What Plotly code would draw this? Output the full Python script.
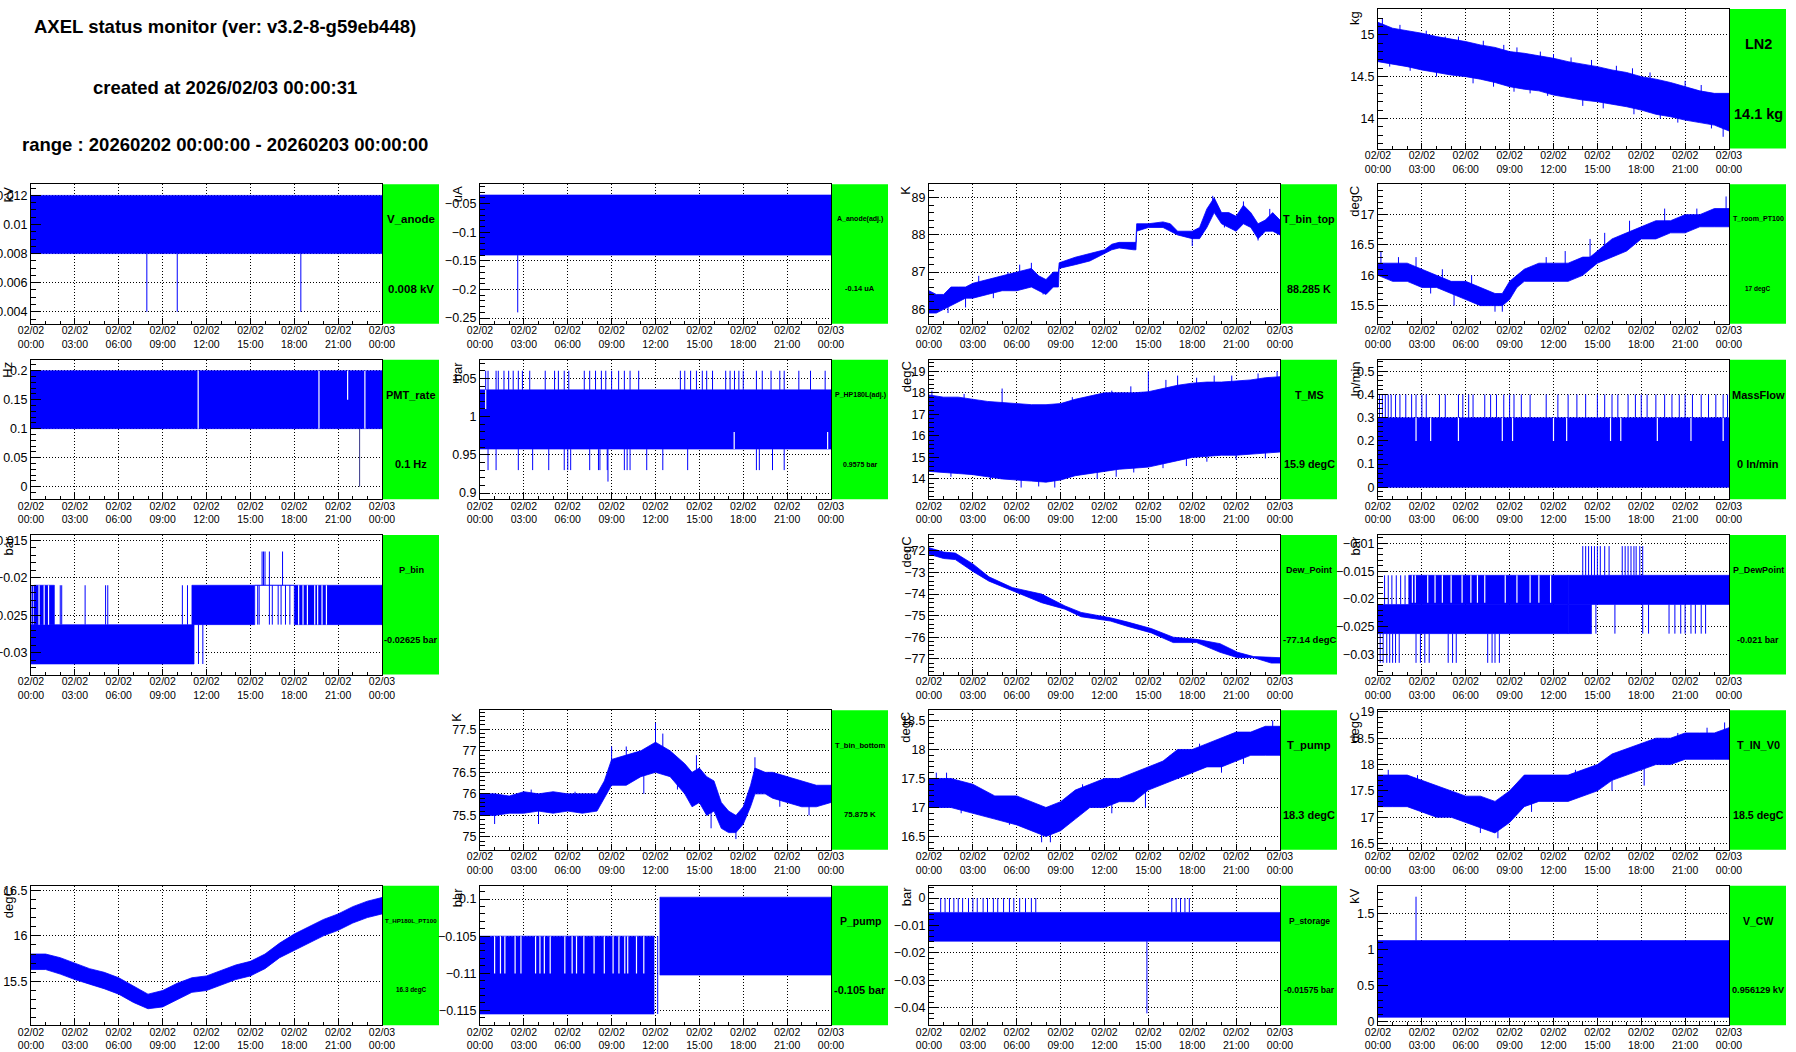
import numpy as np
import plotly.graph_objects as go

W, H = 1796, 1052
CELL_W = W / 4.0
CELL_H = H / 6.0
BLUE = '#0000ff'
GREEN = '#00ff00'
FONT = 'Liberation Sans, Arial, Helvetica, sans-serif'

# ---------------- shared axis data ----------------
X_TICKS = [0, 3, 6, 9, 12, 15, 18, 21, 24]
X_TICK_TEXT = ['02/02<br>00:00', '02/02<br>03:00', '02/02<br>06:00', '02/02<br>09:00',
               '02/02<br>12:00', '02/02<br>15:00', '02/02<br>18:00', '02/02<br>21:00',
               '02/03<br>00:00']
HEADER = ['AXEL status monitor (ver: v3.2-8-g59eb448)',
          'created at 2026/02/03 00:00:31',
          'range : 20260202 00:00:00 - 20260203 00:00:00']

# ---------------- LN2 ----------------
LN2_T = [0, 1, 2, 3, 4, 5, 6, 7, 8, 9, 10, 11, 12, 13, 14, 15, 16, 17, 18, 19, 20, 21, 22, 23, 24]
LN2_HI = [15.15, 15.08, 15.05, 15.02, 14.98, 14.95, 14.92, 14.88, 14.85, 14.8, 14.78, 14.75, 14.72,
          14.68, 14.65, 14.62, 14.58, 14.55, 14.5, 14.47, 14.43, 14.38, 14.33, 14.3, 14.3]
LN2_LO = [14.68, 14.65, 14.62, 14.58, 14.55, 14.52, 14.5, 14.47, 14.43, 14.38, 14.35, 14.33, 14.28,
          14.25, 14.22, 14.2, 14.17, 14.14, 14.1, 14.05, 14.02, 13.98, 13.95, 13.92, 13.85]
LN2_SPK_T = [0.3, 0.8, 1.5, 2.2, 3.3, 4.0, 4.6, 5.5, 6.5, 7.2, 7.9, 8.6, 9.3, 9.5, 10.4, 11.1, 11.6,
             12.0, 13.2, 14.0, 14.6, 15.4, 16.3, 17.4, 17.5, 18.6, 19.3, 20.5, 21.0, 22.1, 22.8, 23.6]
LN2_SPK_Y = [15.2, 14.62, 15.12, 14.57, 15.05, 14.5, 14.98, 14.98, 14.42, 14.93, 14.38, 14.88,
             14.32, 14.85, 14.3, 14.8, 14.27, 14.77, 14.73, 14.15, 14.7, 14.12, 14.63, 14.6, 14.05,
             14.55, 14.0, 13.95, 14.45, 14.4, 13.88, 13.78]

# ---------------- V_anode ----------------
VAN_BAND = [0.008, 0.012]
VAN_SPK_T = [7.92, 10.0, 18.45]
VAN_SPK_Y = [0.004, 0.004, 0.004]

# ---------------- A_anode(adj.) ----------------
AAN_BAND = [-0.14, -0.035]
AAN_SPK_T = [2.58]
AAN_SPK_Y = [-0.24]

# ---------------- T_bin_top ----------------
TBT_T = [0, 0.5, 1, 1.5, 2, 2.5, 3, 4, 5, 6, 7, 7.5, 8, 8.5, 8.85, 8.9, 10, 11, 12, 12.5, 13, 14,
         14.15, 14.2, 15, 16, 16.5, 17, 18, 18.5, 19, 19.5, 20, 20.5, 21, 21.5, 22, 22.5, 23, 23.5, 24]
TBT_HI = [86.5, 86.4, 86.4, 86.6, 86.6, 86.6, 86.7, 86.8, 86.9, 87.0, 87.1, 86.9, 86.8, 87.0, 87.0,
          87.25, 87.4, 87.5, 87.6, 87.75, 87.8, 87.8, 87.8, 88.3, 88.3, 88.35, 88.3, 88.1, 88.1, 88.2,
          88.7, 89.0, 88.6, 88.6, 88.5, 88.8, 88.6, 88.3, 88.4, 88.6, 88.4]
TBT_LO = [85.9, 85.9, 86.0, 86.1, 86.2, 86.3, 86.3, 86.4, 86.5, 86.5, 86.6, 86.5, 86.4, 86.6, 86.6,
          87.1, 87.2, 87.3, 87.5, 87.6, 87.65, 87.6, 87.6, 88.1, 88.2, 88.2, 88.1, 88.0, 87.9, 87.9,
          88.2, 88.6, 88.3, 88.2, 88.1, 88.3, 88.2, 87.9, 88.1, 88.1, 88.0]
TBT_SPK_T = [1.3, 2.5, 3.4, 4.4, 5.4, 6.2, 7.0, 7.8, 18.0, 19.4, 20.2, 21.5, 22.5, 23.3]
TBT_SPK_Y = [85.9, 86.05, 86.9, 86.3, 87.0, 87.2, 87.25, 86.4, 87.7, 89.05, 88.2, 88.9, 87.85, 88.7]

# ---------------- T_room_PT100 ----------------
TR_T = [0, 1, 2, 3, 4, 5, 6, 7, 8, 8.5, 9, 9.5, 10, 11, 12, 13, 14, 14.5, 15, 16, 17, 18, 19, 20, 21, 22, 23, 24]
TR_HI = [16.2, 16.2, 16.2, 16.1, 16.0, 15.9, 15.9, 15.8, 15.7, 15.7, 15.9, 16.0, 16.1, 16.2, 16.2,
         16.2, 16.3, 16.3, 16.4, 16.6, 16.7, 16.8, 16.9, 16.9, 17.0, 17.0, 17.1, 17.1]
TR_LO = [16.0, 15.9, 15.9, 15.8, 15.8, 15.7, 15.6, 15.5, 15.5, 15.5, 15.6, 15.8, 15.9, 15.9, 15.9,
         15.9, 16.0, 16.1, 16.2, 16.3, 16.4, 16.6, 16.6, 16.7, 16.7, 16.8, 16.8, 16.8]
TR_SPK_T = [0.2, 1.4, 2.6, 3.6, 4.4, 5.2, 6.4, 8.0, 8.5, 11.5, 12.8, 14.5, 15.5, 17.2, 19.6, 21.8, 23.8]
TR_SPK_Y = [16.4, 16.3, 16.3, 15.7, 16.1, 15.5, 16.0, 15.4, 15.4, 16.3, 16.4, 16.6, 16.7, 16.9, 17.1, 17.1, 17.3]

# ---------------- PMT_rate ----------------
PMT_BAND = [0.1, 0.2]
PMT_GAP_T = [11.43, 19.69, 22.83]
PMT_HALFGAP_T = [21.65]
PMT_HALFGAP_Y = [0.15, 0.2]
PMT_SPK_T = [22.47]
PMT_SPK_Y = [0.0]

# ---------------- P_HP180L(adj.) ----------------
PHP_BAND = [0.9575, 1.035]
PHP_UP_T = [0.39, 0.55, 1.1, 1.25, 1.64, 1.96, 2.27, 2.62, 2.9, 3.4, 4.46, 5.1, 5.36, 5.76, 6.07,
            7.13, 7.5, 7.9, 8.3, 8.6, 9.0, 9.48, 9.87, 10.26, 10.85, 13.7, 14.0, 14.4, 14.8, 15.2,
            15.5, 15.9, 16.8, 17.1, 17.4, 17.7, 18.0, 18.9, 19.3, 19.9, 20.5, 20.8, 21.8, 22.6, 23.6]
PHP_UP_Y = 1.06
PHP_DN_T = [0.55, 1.1, 2.62, 3.6, 4.7, 5.76, 6.0, 6.2, 7.5, 8.1, 8.2, 8.7, 9.87, 10.06, 10.26,
            11.4, 12.5, 14.2, 18.9, 19.1, 20.0, 20.8]
PHP_DN_Y = 0.93
PHP_DEEP_T = [8.75]
PHP_DEEP_Y = [0.915]
PHP_GAP_LO_T = [17.38, 23.77]
PHP_GAP_LO_Y = [0.9575, 0.98]
PHP_GAP_HI_T = [0.39]
PHP_GAP_HI_Y = [1.01, 1.035]

# ---------------- T_MS ----------------
TMS_T = [0, 1, 2, 3, 4, 5, 6, 7, 8, 9, 10, 11, 12, 13, 14, 15, 16, 17, 18, 19, 20, 21, 22, 23, 24]
TMS_HI = [17.9, 17.8, 17.8, 17.7, 17.6, 17.55, 17.5, 17.45, 17.45, 17.5, 17.7, 17.85, 18.0, 18.0,
          18.0, 18.05, 18.2, 18.35, 18.45, 18.5, 18.5, 18.55, 18.6, 18.7, 18.75]
TMS_LO = [14.35, 14.3, 14.25, 14.2, 14.1, 14.0, 13.95, 13.9, 13.85, 13.95, 14.15, 14.25, 14.35,
          14.45, 14.5, 14.55, 14.7, 14.85, 15.0, 15.05, 15.1, 15.1, 15.15, 15.2, 15.25]
TMS_SPK_T = [0.2, 2.4, 5.0, 9.8, 12.5, 13.8, 15.0, 16.2, 17.0, 18.3, 19.5, 20.7, 22.5, 23.8,
             1.5, 4.2, 6.3, 7.5, 8.6, 11.5, 12.8, 14.0, 16.0, 17.6, 19.0, 21.0, 23.0]
TMS_SPK_Y = [18.1, 17.95, 18.2, 17.8, 18.1, 18.3, 19.0, 18.6, 18.8, 18.7, 18.8, 18.8, 18.9, 19.0,
             14.1, 13.95, 13.6, 13.65, 13.6, 14.0, 14.1, 14.3, 14.5, 14.6, 14.8, 14.9, 14.95]

# ---------------- MassFlow ----------------
MF_BAND = [0.0, 0.3]
MF_UP_T = [0.1, 0.3, 0.5, 0.7, 0.9, 1.2, 1.5, 1.9, 2.3, 2.6, 3.0, 3.3, 4.2, 4.6, 5.5, 5.8, 6.2, 6.5,
           7.3, 7.7, 8.1, 8.6, 9.0, 9.3, 9.8, 10.4, 11.5, 12.3, 13.0, 13.6, 14.2, 15.0, 15.5, 16.0,
           16.4, 17.1, 17.6, 18.0, 18.4, 19.0, 19.6, 20.1, 20.6, 21.0, 21.5, 22.1, 22.6, 23.1, 23.6, 23.9]
MF_UP_Y = 0.4
MF_GAP_T = [2.6, 3.6, 5.5, 8.5, 9.2, 12.0, 12.9, 15.9, 16.6, 19.1, 21.4, 23.6]
MF_GAP_Y = [0.2, 0.3]

# ---------------- P_bin ----------------
PBIN_LV = [-0.0165, -0.021, -0.02625, -0.0315]
PBIN_LOW_SEG = [(0.0, 11.15)]
PBIN_LOW_LINES = [11.45, 11.75]
PBIN_UP_SEG = [(0.2, 1.6), (11.0, 15.3), (18.0, 24.0)]
PBIN_UP_LINES = [0.0, 0.1, 2.0, 2.1, 3.7, 5.1, 5.25, 10.35, 10.7, 15.5, 15.6, 16.3, 16.5, 16.9,
                 17.1, 17.4, 17.7]
PBIN_UP_GAPS = [0.55, 0.9, 1.2, 18.3, 18.6, 18.9, 19.4, 19.6, 19.9, 20.2]
PBIN_HI_LINES = [15.8, 15.9, 16.0, 16.3, 17.2]
PBIN_FLAT = [15.3, 18.0]

# ---------------- Dew_Point ----------------
DP_T = [0, 1, 1.8, 3, 4.1, 5.7, 7.7, 9.3, 10.4, 12.4, 13.6, 15.2, 16.7, 18.3, 19.9, 21.1, 22.2, 23.4, 24]
DP_HI = [-71.85, -72.05, -72.1, -72.6, -73.2, -73.7, -74.0, -74.55, -74.85, -75.1, -75.3, -75.6,
         -76.0, -76.1, -76.3, -76.7, -76.9, -76.95, -76.95]
DP_LO = [-72.15, -72.35, -72.4, -72.95, -73.4, -73.85, -74.4, -74.7, -75.05, -75.25, -75.5, -75.8,
         -76.25, -76.25, -76.7, -76.95, -76.95, -77.2, -77.2]

# ---------------- P_DewPoint ----------------
PDP_LV = [-0.0105, -0.01575, -0.021, -0.02625, -0.0315]
PDP_MAIN_A = [(0.0, 13.0)]        # between L3 and L2
PDP_MAIN_B = [(13.0, 24.0)]       # between L2 and L1
PDP_UPPER_SEG = [(2.1, 13.0)]     # between L2 and L1
PDP_UPPER_LINES = [0.45, 0.7, 0.95, 1.25, 1.55, 1.85]
PDP_UPPER_GAPS = [2.35, 2.55, 3.4, 3.9, 4.4, 5.0, 5.75, 6.35, 6.8, 7.3, 8.7, 9.5, 10.4, 11.0, 11.8]
PDP_LOWER_SEG = [(13.0, 14.6)]    # between L3 and L2
PDP_LOWER_LINES = [14.9, 16.2, 18.1, 18.5, 19.9, 20.3, 20.7, 21.0, 21.4, 21.7, 22.1, 22.4]
PDP_DEEP_LINES = [0.15, 0.35, 0.6, 0.8, 1.0, 1.2, 1.45, 2.6, 2.9, 3.2, 3.5, 4.8, 5.1, 5.35,
                  7.5, 7.8, 8.0, 8.3]
PDP_TOP_LINES = [14.0, 14.2, 14.4, 14.6, 14.8, 15.0, 15.2, 15.5, 15.8, 16.7, 16.9, 17.1, 17.3,
                 17.5, 17.65, 17.9, 18.1]

# ---------------- T_bin_bottom ----------------
TBB_T = [0, 1, 2, 3, 4, 5, 6, 7, 8, 8.5, 9, 10, 11, 12, 13, 14, 14.5, 15, 15.5, 16, 16.5, 17, 17.5,
         18, 18.5, 18.8, 19.5, 20, 21, 22, 23, 24]
TBB_HI = [76.0, 76.0, 75.95, 76.05, 76.0, 76.05, 76.0, 76.0, 76.0, 76.3, 76.8, 76.9, 77.0, 77.2,
          77.0, 76.7, 76.5, 76.6, 76.4, 76.3, 75.8, 75.6, 75.5, 75.7, 76.2, 76.6, 76.5, 76.5, 76.4,
          76.3, 76.2, 76.2]
TBB_LO = [75.5, 75.5, 75.55, 75.55, 75.6, 75.55, 75.6, 75.55, 75.6, 75.9, 76.2, 76.2, 76.4, 76.5,
          76.4, 76.0, 75.7, 75.8, 75.5, 75.6, 75.2, 75.1, 75.1, 75.3, 75.7, 76.0, 76.0, 75.9, 75.8,
          75.7, 75.7, 75.8]
TBB_SPK_T = [9.0, 10.0, 12.0, 12.5, 18.8, 1.0, 4.0, 15.8, 17.5, 22.5, 3.5, 11.2, 6.5, 13.5, 14.8, 20.5]
TBB_SPK_Y = [77.1, 77.1, 77.65, 77.4, 76.85, 75.3, 75.3, 75.2, 74.95, 75.5, 76.1, 76.0, 76.05, 76.1,
             76.9, 75.7]

# ---------------- T_pump ----------------
TP_T = [0, 1.5, 3, 4.5, 6, 7, 8, 9, 10, 11, 12, 13, 14, 15, 16, 17, 18, 19, 20, 21, 22, 23, 24]
TP_HI = [17.5, 17.5, 17.4, 17.2, 17.2, 17.1, 17.0, 17.1, 17.3, 17.4, 17.5, 17.5, 17.6, 17.7, 17.8,
         18.0, 18.0, 18.1, 18.2, 18.3, 18.3, 18.4, 18.4]
TP_LO = [17.0, 17.0, 16.9, 16.8, 16.7, 16.6, 16.5, 16.6, 16.8, 17.0, 17.0, 17.1, 17.1, 17.3, 17.4,
         17.5, 17.6, 17.7, 17.7, 17.8, 17.9, 17.9, 17.9]
TP_SPK_T = [0.5, 1.2, 2.2, 5.5, 7.7, 8.3, 10.5, 12.5, 14.8, 16.5, 18.5, 20.0, 21.5, 23.5]
TP_SPK_Y = [17.6, 17.6, 16.9, 16.7, 16.4, 16.4, 17.4, 16.9, 17.0, 17.9, 18.1, 17.6, 17.75, 18.5]

# ---------------- T_IN_V0 ----------------
TIV_T = [0, 1, 2, 3, 4, 5, 6, 7, 8, 8.5, 9, 10, 11, 12, 13, 14, 15, 16, 17, 18, 19, 20, 21, 22, 23, 24]
TIV_HI = [17.8, 17.8, 17.8, 17.7, 17.6, 17.5, 17.4, 17.4, 17.3, 17.4, 17.5, 17.8, 17.8, 17.8, 17.8,
          17.9, 18.0, 18.2, 18.3, 18.4, 18.5, 18.5, 18.6, 18.6, 18.6, 18.7]
TIV_LO = [17.2, 17.2, 17.2, 17.1, 17.0, 17.0, 16.9, 16.8, 16.7, 16.8, 16.9, 17.2, 17.3, 17.3, 17.3,
          17.4, 17.5, 17.7, 17.8, 17.9, 18.0, 18.0, 18.1, 18.1, 18.1, 18.1]
TIV_SPK_T = [0.7, 2.7, 4.5, 7.0, 8.2, 10.5, 13.5, 16.0, 18.2, 20.5, 22.5, 23.7]
TIV_SPK_Y = [17.9, 17.8, 17.05, 16.7, 16.6, 17.1, 17.9, 17.5, 17.6, 18.6, 18.7, 18.8]

# ---------------- T_HP180L_PT100 ----------------
THP_T = [0, 1, 2, 3, 4, 5, 6, 7, 8, 9, 10, 11, 12, 13, 14, 15, 16, 17, 18, 19, 20, 21, 22, 23, 24]
THP_HI = [15.8, 15.8, 15.76, 15.7, 15.64, 15.6, 15.54, 15.45, 15.36, 15.4, 15.48, 15.54, 15.56,
          15.62, 15.68, 15.72, 15.8, 15.92, 16.02, 16.1, 16.18, 16.24, 16.32, 16.38, 16.42]
THP_LO = [15.63, 15.63, 15.58, 15.52, 15.47, 15.42, 15.36, 15.27, 15.2, 15.22, 15.3, 15.38, 15.4,
          15.46, 15.52, 15.56, 15.64, 15.76, 15.84, 15.92, 16.0, 16.06, 16.14, 16.2, 16.24]

# ---------------- P_pump ----------------
PP_LV = [-0.09975, -0.105, -0.11025, -0.1155]
PP_LOW_SEG = [(0.0, 11.9)]
PP_MID_SEG = [(0.0, 11.9)]
PP_MID_GAPS = [1.0, 1.4, 1.7, 2.4, 2.8, 3.8, 4.1, 4.4, 4.8, 5.8, 6.3, 6.6, 7.1, 7.8, 8.5, 9.1, 9.5,
               9.9, 10.1, 10.7, 11.2]
PP_SPK_T = [12.15]
PP_UP_SEG = [(12.3, 24.0)]

# ---------------- P_storage ----------------
PS_BAND = [-0.01575, -0.00525]
PS_UP_T = [0.8, 1.1, 1.4, 1.7, 2.0, 2.3, 2.7, 3.0, 3.3, 3.7, 4.0, 4.4, 4.7, 5.1, 5.5, 5.8, 6.2, 6.6,
           7.0, 7.3, 16.6, 16.9, 17.2, 17.5, 17.8]
PS_UP_Y = 0.0
PS_DN_T = [14.9]
PS_DN_Y = [-0.042]

# ---------------- V_CW ----------------
VCW_BAND = [0.06, 1.13]
VCW_SPK_T = [2.6]
VCW_SPK_Y = [1.74]

# ---------------- panel table ----------------
PANELS = [
    ('LN2', 0, 3, 'LN2', '14.1 kg', 14.5, 14.5, 'kg', [13.64, 15.31], [14, 14.5, 15], ['14', '14.5', '15'], 0.1),
    ('VAN', 1, 0, 'V_anode', '0.008 kV', 11.5, 11.5, 'kV', [0.00317, 0.01276],
     [0.004, 0.006, 0.008, 0.01, 0.012], ['0.004', '0.006', '0.008', '0.01', '0.012'], 0.0005),
    ('AAN', 1, 1, 'A_anode(adj.)', '-0.14 uA', 7.0, 7.5, 'uA', [-0.26, -0.0164],
     [-0.25, -0.2, -0.15, -0.1, -0.05], ['\u22120.25', '\u22120.2', '\u22120.15', '\u22120.1', '\u22120.05'], 0.01),
    ('TBT', 1, 2, 'T_bin_top', '88.285 K', 10.8, 10.8, 'K', [85.61, 89.36], [86, 87, 88, 89],
     ['86', '87', '88', '89'], 0.2),
    ('TR', 1, 3, 'T_room_PT100', '17 degC', 7.1, 6.5, 'degC', [15.2, 17.5], [15.5, 16, 16.5, 17],
     ['15.5', '16', '16.5', '17'], 0.1),
    ('PMT', 2, 0, 'PMT_rate', '0.1 Hz', 11.0, 11.0, 'Hz', [-0.0216, 0.219], [0, 0.05, 0.1, 0.15, 0.2],
     ['0', '0.05', '0.1', '0.15', '0.2'], 0.01),
    ('PHP', 2, 1, 'P_HP180L(adj.)', '0.9575 bar', 7.0, 7.0, 'bar', [0.892, 1.0745], [0.9, 0.95, 1, 1.05],
     ['0.9', '0.95', '1', '1.05'], 0.01),
    ('TMS', 2, 2, 'T_MS', '15.9 degC', 10.8, 10.8, 'degC', [13.06, 19.54], [14, 15, 16, 17, 18, 19],
     ['14', '15', '16', '17', '18', '19'], 0.2),
    ('MF', 2, 3, 'MassFlow', '0 ln/min', 11.0, 11.0, 'ln/min', [-0.051, 0.55], [0, 0.1, 0.2, 0.3, 0.4, 0.5],
     ['0', '0.1', '0.2', '0.3', '0.4', '0.5'], 0.02),
    ('PBIN', 3, 0, 'P_bin', '-0.02625 bar', 9.2, 9.2, 'bar', [-0.0329, -0.0143],
     [-0.03, -0.025, -0.02, -0.015], ['\u22120.03', '\u22120.025', '\u22120.02', '\u22120.015'], 0.001),
    ('DP', 3, 2, 'Dew_Point', '-77.14 degC', 9.0, 9.5, 'degC', [-77.73, -71.26],
     [-77, -76, -75, -74, -73, -72], ['\u221277', '\u221276', '\u221275', '\u221274', '\u221273', '\u221272'], 0.2),
    ('PDP', 3, 3, 'P_DewPoint', '-0.021 bar', 8.9, 8.9, 'bar', [-0.0336, -0.0085],
     [-0.03, -0.025, -0.02, -0.015, -0.01],
     ['\u22120.03', '\u22120.025', '\u22120.02', '\u22120.015', '\u22120.01'], 0.001),
    ('TBB', 4, 1, 'T_bin_bottom', '75.875 K', 7.6, 7.8, 'K', [74.70, 77.94],
     [75, 75.5, 76, 76.5, 77, 77.5], ['75', '75.5', '76', '76.5', '77', '77.5'], 0.1),
    ('TP', 4, 2, 'T_pump', '18.3 degC', 11.2, 11.0, 'degC', [16.27, 18.675], [16.5, 17, 17.5, 18, 18.5],
     ['16.5', '17', '17.5', '18', '18.5'], 0.1),
    ('TIV', 4, 3, 'T_IN_V0', '18.5 degC', 10.9, 10.7, 'degC', [16.38, 19.03],
     [16.5, 17, 17.5, 18, 18.5, 19], ['16.5', '17', '17.5', '18', '18.5', '19'], 0.1),
    ('THP', 5, 0, 'T_HP180L_PT100', '16.3 degC', 6.2, 6.4, 'degC', [15.02, 16.55], [15.5, 16, 16.5],
     ['15.5', '16', '16.5'], 0.1),
    ('PP', 5, 1, 'P_pump', '-0.105 bar', 10.5, 11.0, 'bar', [-0.117, -0.0982],
     [-0.115, -0.11, -0.105, -0.1], ['\u22120.115', '\u22120.11', '\u22120.105', '\u22120.1'], 0.001),
    ('PS', 5, 2, 'P_storage', '-0.01575 bar', 8.5, 8.7, 'bar', [-0.0463, 0.0045],
     [-0.04, -0.03, -0.02, -0.01, 0], ['\u22120.04', '\u22120.03', '\u22120.02', '\u22120.01', '0'], 0.002),
    ('VCW', 5, 3, 'V_CW', '0.956129 kV', 10.5, 9.2, 'kV', [-0.049, 1.894], [0, 0.5, 1, 1.5],
     ['0', '0.5', '1', '1.5'], 0.1),
]

fig = go.Figure()
AXIS = {}


def xa(k):
    return 'x' if k == 1 else 'x%d' % k


def ya(k):
    return 'y' if k == 1 else 'y%d' % k


def add_fill(k, x, y, color=BLUE, lw=0.8):
    fig.add_trace(go.Scatter(x=x, y=y, mode='lines', fill='toself', fillcolor=color,
                             line=dict(color=color, width=lw), xaxis=xa(k), yaxis=ya(k),
                             hoverinfo='skip', showlegend=False))


def add_lines(k, x, y, color=BLUE, lw=1.0):
    fig.add_trace(go.Scatter(x=x, y=y, mode='lines', line=dict(color=color, width=lw),
                             xaxis=xa(k), yaxis=ya(k), hoverinfo='skip', showlegend=False,
                             connectgaps=False))


def band(k, t, lo, hi, color=BLUE):
    t = list(t)
    add_fill(k, t + t[::-1], list(hi) + list(lo)[::-1], color)


def rects(k, segs, lo, hi, color=BLUE):
    x, y = [], []
    for a, b in segs:
        x += [a, b, b, a, a, None]
        y += [lo, lo, hi, hi, lo, None]
    add_fill(k, x, y, color, lw=0.6)


def vlines(k, ts, y0, y1, color=BLUE, lw=1.0):
    x, y = [], []
    for t in ts:
        x += [t, t, None]
        y += [y0, y1, None]
    add_lines(k, x, y, color, lw)


def spikes(k, ts, ys, bt, blo, bhi, color=BLUE, lw=1.0):
    mid = (np.array(blo) + np.array(bhi)) / 2.0
    x, y = [], []
    for t, v in zip(ts, ys):
        base = float(np.interp(t, bt, mid))
        x += [t, t, None]
        y += [base, v, None]
    add_lines(k, x, y, color, lw)


def pspikes(k, ts, ys, y0, color=BLUE, lw=1.0):
    x, y = [], []
    for t, v in zip(ts, ys):
        x += [t, t, None]
        y += [y0, v, None]
    add_lines(k, x, y, color, lw)


K = {p[0]: i + 1 for i, p in enumerate(PANELS)}
FULL = [(0.0, 24.0)]

# ---- traces ----
k = K['LN2']
band(k, LN2_T, LN2_LO, LN2_HI)
spikes(k, LN2_SPK_T, LN2_SPK_Y, LN2_T, LN2_LO, LN2_HI)

k = K['VAN']
rects(k, FULL, VAN_BAND[0], VAN_BAND[1])
pspikes(k, VAN_SPK_T, VAN_SPK_Y, VAN_BAND[0])

k = K['AAN']
rects(k, FULL, AAN_BAND[0], AAN_BAND[1])
pspikes(k, AAN_SPK_T, AAN_SPK_Y, AAN_BAND[0])

k = K['TBT']
band(k, TBT_T, TBT_LO, TBT_HI)
spikes(k, TBT_SPK_T, TBT_SPK_Y, TBT_T, TBT_LO, TBT_HI)

k = K['TR']
band(k, TR_T, TR_LO, TR_HI)
spikes(k, TR_SPK_T, TR_SPK_Y, TR_T, TR_LO, TR_HI)

k = K['PMT']
rects(k, FULL, PMT_BAND[0], PMT_BAND[1])
vlines(k, PMT_GAP_T, PMT_BAND[0], PMT_BAND[1], color='white', lw=1.2)
vlines(k, PMT_HALFGAP_T, PMT_HALFGAP_Y[0], PMT_HALFGAP_Y[1], color='white', lw=1.2)
pspikes(k, PMT_SPK_T, PMT_SPK_Y, PMT_BAND[0], color='#000066', lw=0.8)

k = K['PHP']
vlines(k, PHP_UP_T, PHP_BAND[1], PHP_UP_Y)
vlines(k, PHP_DN_T, PHP_BAND[0], PHP_DN_Y)
pspikes(k, PHP_DEEP_T, PHP_DEEP_Y, PHP_BAND[0])
rects(k, FULL, PHP_BAND[0], PHP_BAND[1])
vlines(k, PHP_GAP_LO_T, PHP_GAP_LO_Y[0], PHP_GAP_LO_Y[1], color='white', lw=1.2)
vlines(k, PHP_GAP_HI_T, PHP_GAP_HI_Y[0], PHP_GAP_HI_Y[1], color='white', lw=1.2)

k = K['TMS']
band(k, TMS_T, TMS_LO, TMS_HI)
spikes(k, TMS_SPK_T, TMS_SPK_Y, TMS_T, TMS_LO, TMS_HI)

k = K['MF']
vlines(k, MF_UP_T, MF_BAND[1], MF_UP_Y)
rects(k, FULL, MF_BAND[0], MF_BAND[1])
vlines(k, MF_GAP_T, MF_GAP_Y[0], MF_GAP_Y[1], color='white', lw=1.2)

k = K['PBIN']
rects(k, PBIN_LOW_SEG, PBIN_LV[3], PBIN_LV[2])
vlines(k, PBIN_LOW_LINES, PBIN_LV[3], PBIN_LV[2])
rects(k, PBIN_UP_SEG, PBIN_LV[2], PBIN_LV[1])
vlines(k, PBIN_UP_LINES, PBIN_LV[2], PBIN_LV[1])
vlines(k, PBIN_UP_GAPS, PBIN_LV[2], PBIN_LV[1], color='white', lw=1.2)
vlines(k, PBIN_HI_LINES, PBIN_LV[1], PBIN_LV[0])
add_lines(k, PBIN_FLAT, [PBIN_LV[1], PBIN_LV[1]])

k = K['DP']
band(k, DP_T, DP_LO, DP_HI)

k = K['PDP']
rects(k, PDP_MAIN_A, PDP_LV[3], PDP_LV[2])
rects(k, PDP_MAIN_B, PDP_LV[2], PDP_LV[1])
rects(k, PDP_UPPER_SEG, PDP_LV[2], PDP_LV[1])
vlines(k, PDP_UPPER_LINES, PDP_LV[2], PDP_LV[1])
vlines(k, PDP_UPPER_GAPS, PDP_LV[2] + 0.0003, PDP_LV[1], color='white', lw=1.2)
rects(k, PDP_LOWER_SEG, PDP_LV[3], PDP_LV[2])
vlines(k, PDP_LOWER_LINES, PDP_LV[3], PDP_LV[2])
vlines(k, PDP_DEEP_LINES, PDP_LV[4], PDP_LV[3])
vlines(k, PDP_TOP_LINES, PDP_LV[1], PDP_LV[0])

k = K['TBB']
band(k, TBB_T, TBB_LO, TBB_HI)
spikes(k, TBB_SPK_T, TBB_SPK_Y, TBB_T, TBB_LO, TBB_HI)

k = K['TP']
band(k, TP_T, TP_LO, TP_HI)
spikes(k, TP_SPK_T, TP_SPK_Y, TP_T, TP_LO, TP_HI)

k = K['TIV']
band(k, TIV_T, TIV_LO, TIV_HI)
spikes(k, TIV_SPK_T, TIV_SPK_Y, TIV_T, TIV_LO, TIV_HI)

k = K['THP']
band(k, THP_T, THP_LO, THP_HI)

k = K['PP']
rects(k, PP_LOW_SEG, PP_LV[3], PP_LV[2])
rects(k, PP_MID_SEG, PP_LV[2], PP_LV[1])
vlines(k, PP_MID_GAPS, PP_LV[2] + 0.0002, PP_LV[1], color='white', lw=1.2)
vlines(k, PP_SPK_T, PP_LV[3], PP_LV[1])
rects(k, PP_UP_SEG, PP_LV[2], PP_LV[0])

k = K['PS']
vlines(k, PS_UP_T, PS_BAND[1], PS_UP_Y)
rects(k, FULL, PS_BAND[0], PS_BAND[1])
pspikes(k, PS_DN_T, PS_DN_Y, PS_BAND[0])

k = K['VCW']
rects(k, FULL, VCW_BAND[0], VCW_BAND[1])
pspikes(k, VCW_SPK_T, VCW_SPK_Y, VCW_BAND[1])

# ---- axes, green boxes, labels ----
shapes = []
annotations = []
for i, (key, r, c, label, value, lfs, vfs, unit, yr, ytv, ytt, ymin) in enumerate(PANELS):
    k = i + 1
    px0 = c * CELL_W + 31
    px1 = c * CELL_W + 382
    py0 = r * CELL_H + 9
    py1 = r * CELL_H + 148.5
    xd = [px0 / W, px1 / W]
    yd = [1 - py1 / H, 1 - py0 / H]
    xkey = 'xaxis' if k == 1 else 'xaxis%d' % k
    ykey = 'yaxis' if k == 1 else 'yaxis%d' % k
    AXIS[xkey] = dict(domain=xd, anchor=ya(k), range=[0, 24], tickmode='array',
                      tickvals=X_TICKS, ticktext=X_TICK_TEXT, ticks='inside', ticklen=6,
                      tickcolor='black', tickwidth=1, automargin=False, ticklabelstandoff=-3,
                      tickfont=dict(family=FONT, size=10.5, color='black'),
                      showline=True, linecolor='black', linewidth=1, mirror=True,
                      showgrid=True, gridcolor='black', gridwidth=1, griddash='1px,2px',
                      zeroline=False, fixedrange=True,
                      minor=dict(ticks='inside', ticklen=3, tickmode='linear', tick0=0, dtick=1,
                                 tickcolor='black', showgrid=False))
    AXIS[ykey] = dict(domain=yd, anchor=xa(k), range=yr, tickmode='array', tickvals=ytv,
                      ticktext=ytt, ticks='inside', ticklen=10, tickcolor='black', tickwidth=1,
                      automargin=False,
                      tickfont=dict(family=FONT, size=12.5, color='black'),
                      showline=True, linecolor='black', linewidth=1, mirror=True,
                      showgrid=True, gridcolor='black', gridwidth=1, griddash='1px,2px',
                      zeroline=False, fixedrange=True,
                      minor=dict(ticks='inside', ticklen=5, tickmode='linear', tick0=0, dtick=ymin,
                                 tickcolor='black', showgrid=False))
    gx0 = c * CELL_W + 383
    gx1 = c * CELL_W + 439
    shapes.append(dict(type='rect', xref='paper', yref='paper', x0=gx0 / W, x1=gx1 / W,
                       y0=1 - py1 / H, y1=1 - py0 / H, fillcolor=GREEN, line=dict(width=0),
                       layer='below'))
    gxc = (gx0 + gx1) / 2.0 / W
    hgt = py1 - py0
    annotations.append(dict(text='<b>%s</b>' % label, x=gxc, y=1 - (py0 + 0.25 * hgt) / H,
                            xref='paper', yref='paper', xanchor='center', yanchor='middle',
                            showarrow=False, font=dict(family=FONT, size=lfs, color='black')))
    annotations.append(dict(text='<b>%s</b>' % value, x=gxc, y=1 - (py0 + 0.75 * hgt) / H,
                            xref='paper', yref='paper', xanchor='center', yanchor='middle',
                            showarrow=False, font=dict(family=FONT, size=vfs, color='black')))
    annotations.append(dict(text=unit, x=(c * CELL_W + 8) / W, y=1 - py0 / H, xref='paper',
                            yref='paper', xanchor='center', yanchor='top', textangle=-90,
                            showarrow=False, font=dict(family=FONT, size=13, color='black')))

for txt, yy in zip(HEADER, [26.5, 87.0, 144.5]):
    annotations.append(dict(text='<b>%s</b>' % txt, x=224.5 / W, y=1 - yy / H, xref='paper',
                            yref='paper', xanchor='center', yanchor='middle', showarrow=False,
                            font=dict(family=FONT, size=18.5, color='black')))

fig.update_layout(template='none', width=W, height=H, autosize=False,
                  margin=dict(l=0, r=0, t=0, b=0, pad=0, autoexpand=False),
                  paper_bgcolor='white', plot_bgcolor='white', showlegend=False,
                  shapes=shapes, annotations=annotations, **AXIS)

fig.write_html('out.html', config={'displayModeBar': False, 'staticPlot': True},
               post_script="document.body.style.margin='0';document.body.style.overflow='hidden';")
